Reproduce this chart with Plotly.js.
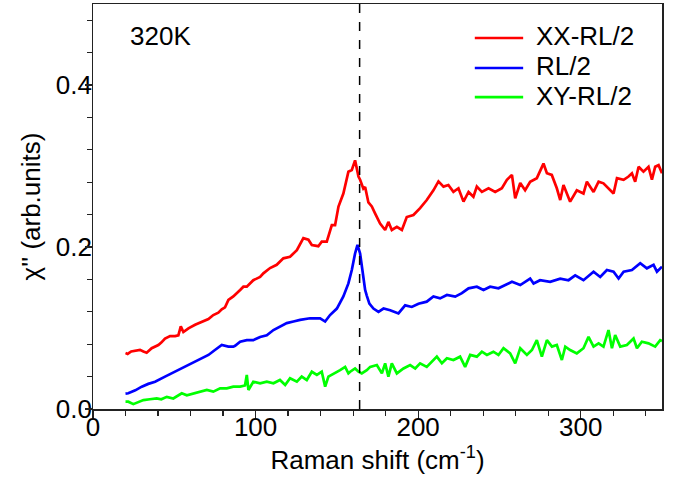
<!DOCTYPE html>
<html>
<head>
<meta charset="utf-8">
<script src="https://cdn.plot.ly/plotly-3.0.1.min.js"></script>
<style>html,body{margin:0;padding:0;background:#fff;}#chart{width:688px;height:487px;}</style>
</head>
<body>
<div id="chart"></div>
<script>
// XX-RL/2 (red)
const xxShift = [20,21.3,23.5,25.8,28.9,31,33,36.1,40.2,42,44.3,47.4,50.5,52.5,54,55.6,58.7,62.8,66.9,71,74,77.1,79.2,81.2,83.3,86.3,90.5,92.5,94.6,98.6,102.8,104.8,108.9,113,117.1,121.2,125.4,129.4,132.5,134.6,138.6,140.7,143.8,146.9,148.9,151,154,157.1,159.2,161.2,163.3,164.3,166.3,167.4,169.4,171.5,173.5,176.6,179.7,181.7,183.8,186.9,190,193,197.1,201.2,205.3,209.4,212.5,215.6,218.6,221.7,224.8,227.9,231,234,236.1,239.2,243.3,247.4,251.5,254.6,257.7,259.7,262.8,265.8,268.9,273,277.1,279.2,282.2,285.3,287.4,289.4,293.5,297.6,301.7,303.8,307.9,311,314,317.1,320.2,322.3,326.4,329.4,331.5,333.5,335.6,338.6,341.7,343.8,345.8,347.9,350];
const xxChi = [0.069,0.068,0.071,0.072,0.073,0.071,0.0695,0.075,0.079,0.082,0.087,0.090,0.090,0.091,0.102,0.095,0.0995,0.104,0.108,0.111,0.116,0.119,0.123,0.1255,0.1346,0.139,0.147,0.151,0.151,0.159,0.163,0.1675,0.174,0.178,0.186,0.188,0.196,0.211,0.209,0.2025,0.201,0.2066,0.2066,0.227,0.227,0.25,0.266,0.293,0.295,0.307,0.287,0.283,0.272,0.274,0.255,0.25,0.2415,0.229,0.221,0.231,0.221,0.225,0.221,0.237,0.2395,0.248,0.258,0.270,0.281,0.2745,0.2765,0.268,0.2725,0.256,0.268,0.262,0.2745,0.268,0.2725,0.268,0.2725,0.283,0.289,0.260,0.279,0.270,0.2806,0.285,0.303,0.291,0.289,0.2725,0.258,0.2765,0.256,0.270,0.266,0.2806,0.268,0.2806,0.2786,0.2725,0.266,0.285,0.283,0.287,0.291,0.2806,0.299,0.293,0.299,0.283,0.299,0.301,0.291];

// RL/2 (blue)
const rlShift = [20,21.7,26,30,34,38.2,44.3,50.5,54.6,58.7,62.8,66.9,71,75,79.2,83.3,86.3,87.4,90.5,94.6,98.6,102.8,106.9,111,115,119.2,123.3,127.4,133.5,139.7,142.8,145.8,150,154,157.1,159.2,161.2,162.7,164.3,166,167.4,168.4,170,172.5,175.6,178.7,182.8,187.9,192,196.1,200.2,205.3,209.4,213.5,217.7,222.8,226.9,231,236.1,240.2,244.3,249.4,253.5,257.7,262.8,268.9,271,275,281.2,287.4,292.5,296.6,301.7,307.9,312,316.1,320.2,323.3,326.4,331.5,336.6,340.7,344.8,346.9,350];
const rlChi = [0.019,0.0194,0.023,0.0276,0.031,0.0337,0.040,0.046,0.050,0.0543,0.0584,0.0626,0.0667,0.0728,0.079,0.077,0.077,0.078,0.083,0.085,0.085,0.089,0.091,0.0975,0.1016,0.106,0.108,0.110,0.112,0.112,0.108,0.116,0.124,0.139,0.155,0.1716,0.192,0.2025,0.192,0.1675,0.147,0.140,0.130,0.124,0.120,0.124,0.122,0.118,0.128,0.126,0.130,0.1325,0.139,0.1366,0.1407,0.1387,0.143,0.149,0.151,0.147,0.151,0.149,0.153,0.157,0.153,0.161,0.155,0.159,0.157,0.161,0.159,0.165,0.159,0.1695,0.163,0.1716,0.1695,0.161,0.1695,0.1716,0.180,0.1737,0.178,0.1695,0.1757];

// XY-RL/2 (green)
const xyShift = [20,21.7,24.8,28,31,35,39.2,42,45.4,49.4,52,54.6,57.7,61.7,65.8,70,74,78.2,82.3,86.3,90.5,93.5,94.6,95.6,98.6,102.8,106.9,111,115,118.2,121.2,125.4,128.4,131.5,134.6,137.7,140.7,142.8,144.8,148.9,152,155.1,157.1,158.2,161.2,163.3,165.3,168.4,170.5,174.6,177.7,179.7,181.7,183.8,186.9,191,195.1,198.2,201.2,205.3,208.4,211.5,214.6,217.7,221.7,225.8,228.9,232,236.1,239.2,242.3,246.3,249.4,252.5,256.6,259.7,262.8,266.9,270,273,276.1,279.2,282.3,285.3,288.4,290.5,293.5,297.6,301.7,304.8,307.9,311,314,317.1,319.2,321.2,324.3,328.4,332.5,334.6,337.6,341.7,345.8,348.9,350];
const xyChi = [0.009,0.009,0.006,0.009,0.011,0.012,0.013,0.012,0.015,0.013,0.016,0.0194,0.017,0.0194,0.0214,0.0235,0.0214,0.0255,0.0255,0.0276,0.0276,0.029,0.042,0.0235,0.0337,0.0317,0.0337,0.0317,0.0358,0.0296,0.038,0.0337,0.040,0.0358,0.046,0.042,0.046,0.0276,0.040,0.044,0.048,0.052,0.044,0.046,0.050,0.046,0.044,0.048,0.052,0.0543,0.044,0.0564,0.040,0.0564,0.044,0.050,0.0543,0.050,0.0564,0.052,0.0584,0.0646,0.0564,0.0626,0.0605,0.0646,0.052,0.0667,0.0646,0.0707,0.0667,0.0707,0.0667,0.075,0.0687,0.0564,0.075,0.0667,0.0728,0.085,0.0646,0.085,0.077,0.079,0.0605,0.077,0.0728,0.0687,0.075,0.089,0.077,0.081,0.077,0.0975,0.075,0.0914,0.077,0.079,0.087,0.075,0.083,0.081,0.077,0.085,0.084];

const seriesNames = ['XX-RL/2','RL/2','XY-RL/2'];
const seriesColors = ['#ff0000','#0000ff','#00ff00'];
const peakShift = 164;
const tempLabel = '320K';
const xRange = [0, 350];
const yRange = [0, 0.5];

const FONT = 'Arial, "Liberation Sans", sans-serif';
const FS = 26;

const shifts = [xxShift, rlShift, xyShift];
const chis = [xxChi, rlChi, xyChi];
// the last series sits on the overlay axes (x2/y2, identical ranges) so that
// the frame/tick axes are created; all curves share the same scale.
const axisPairs = [['x', 'y'], ['x', 'y'], ['x2', 'y2']];

const traces = seriesNames.map((n, i) => ({
  x: shifts[i], y: chis[i], name: n, mode: 'lines',
  xaxis: axisPairs[i][0], yaxis: axisPairs[i][1],
  line: {color: seriesColors[i], width: 2.7}, showlegend: false
}));

// main axes: labels + titles only
const labelAxis = {
  showline: false, showgrid: false, zeroline: false, ticks: '', ticklen: 0,
  tickfont: {family: FONT, size: FS, color: '#000'}
};
// overlay axes: frame lines + tick marks
const tickAxis = {
  showline: true, mirror: true, linecolor: '#222', linewidth: 1.5,
  showgrid: false, zeroline: false, showticklabels: false,
  ticks: 'outside', tickcolor: '#222', tickwidth: 1.2, ticklen: 7
};

// manual legend (line sample + label), placed in paper coordinates
const legendY = [0.916, 0.842, 0.770];
const legendShapes = seriesNames.map((n, i) => ({
  type: 'line', xref: 'paper', yref: 'paper', x0: 0.671, x1: 0.756, y0: legendY[i], y1: legendY[i],
  line: {color: seriesColors[i], width: 2.7}
}));
const legendLabels = seriesNames.map((n, i) => ({
  text: n, xref: 'paper', yref: 'paper', x: 0.775, y: legendY[i] + 0.004,
  xanchor: 'left', yanchor: 'middle', showarrow: false,
  font: {family: FONT, size: FS, color: '#000'}
}));

const layout = {
  width: 688, height: 487,
  margin: {l: 93, r: 26, t: 4, b: 78},
  paper_bgcolor: '#fff', plot_bgcolor: '#fff',
  font: {family: FONT, color: '#000'},
  showlegend: false,
  xaxis: Object.assign({}, labelAxis, {
    anchor: 'y', range: xRange, tick0: 0, dtick: 100,
    title: {text: 'Raman shift (cm<sup>-1</sup>)', font: {family: FONT, size: FS, color: '#000'}, standoff: 9}
  }),
  yaxis: Object.assign({}, labelAxis, {
    anchor: 'x', range: yRange, tick0: 0, dtick: 0.2, tickformat: '.1f',
    title: {text: "\u03c7'' (arb.units)", font: {family: FONT, size: FS, color: '#000'}, standoff: 7}
  }),
  xaxis2: Object.assign({}, tickAxis, {
    overlaying: 'x', anchor: 'y2', side: 'bottom', range: xRange, tick0: 0, dtick: 100,
    minor: {dtick: 20, ticks: 'outside', ticklen: 5, tickcolor: '#222', tickwidth: 1.2}
  }),
  yaxis2: Object.assign({}, tickAxis, {
    overlaying: 'y', anchor: 'x2', side: 'left', range: yRange, tick0: 0, dtick: 0.2,
    minor: {dtick: 0.04, ticks: 'outside', ticklen: 5, tickcolor: '#222', tickwidth: 1.2}
  }),
  shapes: [{type: 'line', xref: 'x', yref: 'paper', x0: peakShift, x1: peakShift, y0: 0, y1: 1,
            line: {color: '#000', width: 1.5, dash: 'dash'}}].concat(legendShapes),
  annotations: [{text: tempLabel, xref: 'paper', yref: 'paper', x: 0.061, y: 0.92,
                 xanchor: 'left', yanchor: 'middle', showarrow: false,
                 font: {family: FONT, size: FS, color: '#000'}}].concat(legendLabels)
};

Plotly.newPlot('chart', traces, layout, {displayModeBar: false, staticPlot: true});
</script>
</body>
</html>
